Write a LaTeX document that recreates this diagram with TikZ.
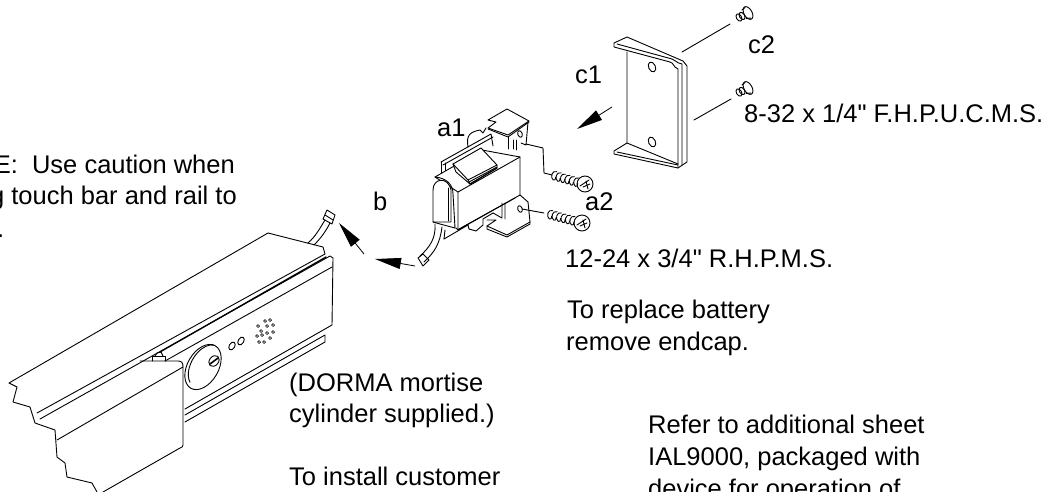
\documentclass[tikz,border=0pt]{standalone}
\usepackage{fontspec}
\newfontfamily\lblfont{Liberation Sans}
\usetikzlibrary{arrows.meta}
\tikzset{
 ln/.style={line width=0.9pt,line join=round,line cap=round},
 lbl/.style={inner sep=0pt,anchor=base west,font=\lblfont\fontsize{25.5}{30}\selectfont},
 lblr/.style={lbl,anchor=base east},
 bigarrow/.style={line width=0.8pt,-{Triangle[length=26pt,width=11pt]}},
}
\newcommand{\threads}[4]{%
 \begin{scope}[shift={(#1,#2)},rotate=#3]
 \foreach \i in {1,...,#4}{\draw[ln] (\i*4.6-1,-4.5) .. controls (\i*4.6-6,-5) and (\i*4.6-6,3) .. (\i*4.6-2,4.5) .. controls (\i*4.6-0.5,5) and (\i*4.6+0.5,3) .. (\i*4.6-0.5,1);}
 \end{scope}}
\newcommand{\fhscrew}[2]{%
 \begin{scope}[shift={(#1,#2)}]
 \draw[ln,rotate=30] (0,0) ellipse[x radius=4,y radius=7];
 \draw[ln] (-3,-5.5) -- (-6,-3) (3,5) -- (-2,5.5);
 \draw[ln,rotate around={30:(-6,3)}] (-6,3) ellipse[x radius=2.6,y radius=4];
 \draw[ln,rotate around={30:(-9,4.5)}] (-9,4.5) ellipse[x radius=2.6,y radius=4];
 \end{scope}}
\begin{document}
\begin{tikzpicture}[x=1pt,y=-1pt]
\useasboundingbox (0,0) rectangle (1052,492);
\clip (0,0) rectangle (1052,492);
\fill[white] (0,0) rectangle (1052,492);
% ===== rail =====
\begin{scope}[ln]
\draw (97,492) -- (92,483) -- (67,477) -- (65,463) -- (57,457) -- (55,430) -- (35,423) -- (30,407) -- (13,402) -- (17,387) -- (9,383) -- (268,233) -- (323,247) -- (325,254) -- (37,413);
\draw (40,419) -- (330,256) -- (333,258) -- (332,325) -- (185,409);
\draw[line width=1.3pt] (160,352) -- (326,257);
\draw (165,361) -- (332,267);
\draw (185,415) -- (325,335) -- (325,342) -- (185,422);
\draw (57,440) -- (183,367) -- (183,445) .. controls (183,447) and (182,447) .. (180,448) -- (103,492);
\draw (183,367) .. controls (183,363) and (182,361) .. (178,361) -- (140,361);
\draw (152,361) -- (152,356) -- (165,356) -- (165,361);
\draw (155,356) -- (157,353) -- (161,352) -- (163,356);
\draw[rotate around={-30:(203,367)}] (203,367) ellipse[x radius=15.5,y radius=24.5];
\begin{scope}[shift={(205,366)},rotate=-30]
\draw (110:14 and 23) arc[start angle=110,end angle=260,x radius=14,y radius=23];
\end{scope}
\draw[rotate around={-40:(214,361)}] (214,361) ellipse[x radius=4.5,y radius=6];
\draw[line width=1.6pt] (210,364) -- (218,358);
\draw[rotate around={-30:(232,346)}] (232,346) ellipse[x radius=2.8,y radius=4.3];
\draw[rotate around={-30:(241,341)}] (241,341) ellipse[x radius=2.8,y radius=4.3];
\foreach \px/\py in {258/326,265/321,270/320,261/331,267/326,273/325,257/336,262/335,267/333,273/332,259/342,264/342,270/338}{
 \draw[line width=0.7pt] (\px,\py) circle[radius=1.5];}
% wire from rail
\draw (308,243) .. controls (316,236) and (320,228) .. (325,220);
\draw (314,245) .. controls (321,238) and (326,231) .. (330,223);
\draw (323,219) -- (327,210) -- (335,215) -- (332,224) -- cycle;
\draw (325,215) -- (333,220);
\end{scope}
% ===== arrows =====
\coordinate (bT) at (364,254); \coordinate (bH) at (339,223);
\draw[bigarrow] (bT) -- (bH);
\coordinate (wT) at (415,266); \coordinate (wH) at (375,259);
\draw[bigarrow] (wT) -- (wH);
\coordinate (cT) at (612,107); \coordinate (cH) at (577,129);
\draw[bigarrow] (cT) -- (cH);
% ===== module =====
\begin{scope}[ln]
% top tab
\draw (488,120) -- (507,109) -- (529,121) -- (508,135) -- (488,128) -- (496,122) -- cycle;
\draw (488,129) -- (508,137) -- (529,122);
\draw (528,122) -- (526,145) -- (521,143);
\draw (513,140) -- (513,149) (516,140) -- (516,150) (508,137) -- (508,149);
\draw[rotate around={20:(520,134)}] (520,134) ellipse[x radius=2.2,y radius=3.4];
% back plate
\draw (441,162) -- (491,134) -- (493,146);
\draw (443,165) -- (493,137);
\draw (441,162) -- (441,176) (445,163) -- (445,172);
\draw (468,147) .. controls (466,135) and (470,132) .. (480,130) -- (483,133) -- (486,128);
% battery
\draw[fill=white] (435,177) -- (482,150) -- (520,157) -- (520,195) -- (458,230) -- (458,192) -- cycle;
\draw (458,192) -- (520,157);
% clip
\draw[fill=white] (453,164) -- (481,148) -- (497,165) -- (497,168) -- (470,184) -- (456,172) -- cycle;
\draw (453,164) -- (468,180) -- (470,184);
\draw (468,180) -- (497,165);
\draw (469,182) -- (497,167);
\draw[line width=1.2pt] (470,184) -- (497,168);
% rounded end
\draw[fill=white] (433,222) -- (433,190) .. controls (433,178) and (448,176) .. (451,190) -- (451,222) -- cycle;
\draw (435,177) .. controls (446,178) and (453,184) .. (453,194) -- (455,228);
\draw (448,188) -- (448,221);
\draw (433,222) -- (440,224) -- (455,228) (458,230) -- (456,228);
% wire
\draw (435,224) .. controls (436,238) and (430,247) .. (420,256);
\draw (442,227) .. controls (440,243) and (435,252) .. (424,262);
\draw (445,230) -- (444,239);
\draw (418,258) -- (423,254) -- (429,260) -- (423,266) -- cycle;
% bottom
\draw (444,239) -- (468,225);
\draw (468,225) -- (469,229) -- (476,231) -- (483,225) -- (483,219) -- (493,213) (459,229) -- (515,198);
\draw (487,226) -- (507,235) -- (530,222) -- (528,202) -- (520,195);
\draw (487,226) -- (487,229) -- (507,237) -- (530,224) -- (530,222);
\draw (487,220) -- (496,220) -- (487,226);
\draw (502,203) -- (502,218) (505,203) -- (505,219) (493,213) -- (502,218);
\draw[rotate around={20:(520,209)}] (520,209) ellipse[x radius=2.2,y radius=3.4];
% screw heads and leaders
\node[circle,draw,line width=0.9pt,minimum size=16pt,inner sep=0pt] (hA) at (585,184) {};
\node[circle,draw,line width=0.9pt,minimum size=16pt,inner sep=0pt] (hB) at (582,223) {};
\draw (526,144) -- (543,148) -- (544,173) -- (552,175);
\draw (522,209) -- (544,213);
\draw (580,186) -- (589,180) (583,187) -- (590,184) (586,181) -- (588,189);
\draw (577,225) -- (586,219) (580,226) -- (587,223) (583,220) -- (585,228);
\end{scope}
\threads{552}{175}{-16}{6}
\threads{548}{214}{-15}{6}
% ===== end cap =====
\begin{scope}[ln]
\draw (614,43) -- (627,37) -- (683,61) -- (687,66) -- (687,162) -- (678,168) -- (614,154) -- (614,151) -- (627,143) -- (627,52);
\draw (614,43) -- (614,47) -- (670,62) .. controls (674,63) and (673,67) .. (678,69) -- (678,168);
\draw (617,44) -- (672,59) .. controls (676,60) and (676,63) .. (682,64) -- (682,165);
\draw (617,152) -- (678,165);
\draw (627,143) -- (678,164);
\draw[rotate around={25:(652,67)}] (652,67) ellipse[x radius=3.4,y radius=5.2];
\draw[rotate around={25:(652,142)}] (652,142) ellipse[x radius=3.4,y radius=5.2];
\coordinate (l1a) at (682,52); \coordinate (l1b) at (730,24);
\coordinate (l2a) at (694,120); \coordinate (l2b) at (731,99);
\draw (l1a) -- (l1b);
\draw (l2a) -- (l2b);
\end{scope}
\fhscrew{748}{13}
\fhscrew{748}{88}
% ===== texts =====
\node[lbl] (tc2) at (748,54) {c2};
\node[lbl] (tscrew) at (744,123) {8-32 x 1/4" F.H.P.U.C.M.S.};
\node[lbl] (tc1) at (575,84) {c1};
\node[lbl] (ta1) at (437,136) {a1};
\node[lbl] (ta2) at (585,210) {a2};
\node[lbl] (tb) at (373,210) {b};
\node[lbl] (tr) at (565,267) {12-24 x 3/4" R.H.P.M.S.};
\node[lbl] (tbat1) at (567,318) {To replace battery};
\node[lbl] (tbat2) at (566,350) {remove endcap.};
\node[lbl] (tdo1) at (289,391) {(DORMA mortise};
\node[lbl] (tdo2) at (289,422) {cylinder supplied.)};
\node[lbl] (tdo3) at (289,485) {To install customer};
\node[lbl] (tref1) at (648,433) {Refer to additional sheet};
\node[lbl] (tref2) at (648,465) {IAL9000, packaged with};
\node[lbl] (tref3) at (648,497) {device for operation of};
\node[lblr] (tn1) at (235,173) {E:\ \ Use caution when};
\node[lblr] (tn2) at (237,204) {g touch bar and rail to};
\node[lbl] (tn3) at (-3,237) {.};
\end{tikzpicture}
\end{document}
